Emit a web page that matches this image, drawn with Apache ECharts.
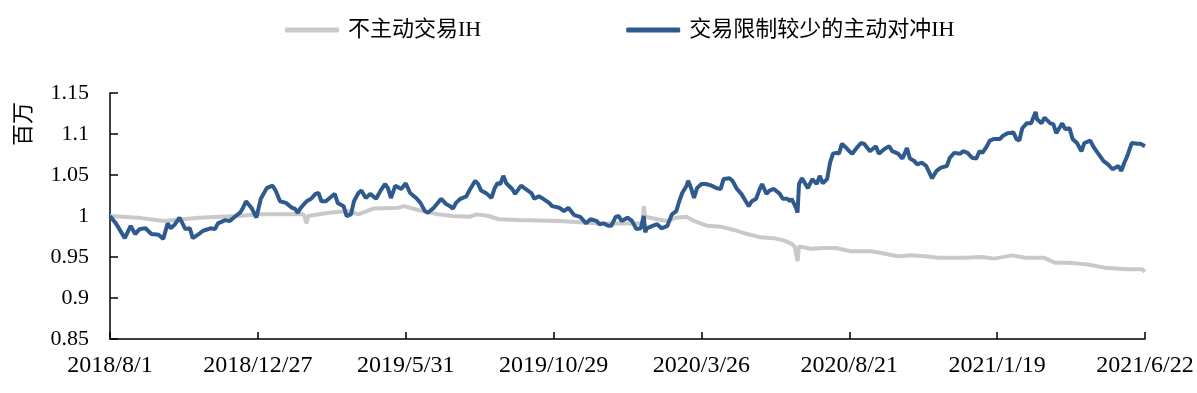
<!DOCTYPE html>
<html>
<head>
<meta charset="utf-8">
<script src="https://cdn.jsdelivr.net/npm/echarts@6/dist/echarts.min.js"></script>
<style>html,body{margin:0;padding:0;background:#fff;}#c{width:1197px;height:393px;}</style>
</head>
<body>
<div id="c"></div>
<script>
// x = trading-day index since 2018/8/1 (each tick = 100 trading days)
const tickLabels = ["2018/8/1","2018/12/27","2019/5/31","2019/10/29","2020/3/26","2020/8/21","2021/1/19","2021/6/22"];
const seriesNames = ["不主动交易IH","交易限制较少的主动对冲IH"];

const grayDays = [0,19,36,60,87,100,117,131,132,133,134,148,161,168,178,195,199,209,222,232,243,248,256,263,276,304,331,358,360,361,362,370,377,383,390,395,404,413,422,431,440,449,456,461,463,465,466,474,483,491,501,515,524,533,542,551,560,578,590,598,610,619,632,639,648,661,673,688,698,700];
const grayValues = [1.000,0.998,0.994,0.998,1.000,1.002,1.002,1.002,1.002,0.991,1.000,1.004,1.006,1.002,1.009,1.010,1.012,1.007,1.002,1.000,0.999,1.002,1.000,0.996,0.995,0.994,0.991,0.991,0.991,1.012,0.999,0.996,0.994,0.998,0.999,0.994,0.988,0.987,0.983,0.978,0.974,0.973,0.970,0.966,0.963,0.945,0.963,0.960,0.961,0.961,0.957,0.957,0.954,0.951,0.952,0.951,0.949,0.949,0.950,0.948,0.952,0.949,0.949,0.943,0.943,0.941,0.937,0.935,0.935,0.932];

const blueDays = [0,4,10,14,17,20,24,28,33,36,39,41,44,47,51,54,56,60,63,68,71,73,78,81,85,88,90,92,96,99,102,106,110,112,115,119,123,125,127,129,133,136,139,141,143,146,150,152,154,158,160,163,165,168,170,173,176,180,183,186,188,190,193,197,200,203,207,210,213,215,219,224,227,230,232,234,237,241,243,245,247,249,251,255,258,260,262,264,266,268,272,274,278,281,285,287,290,293,297,299,304,307,310,314,318,322,325,329,331,334,337,339,342,344,346,350,353,356,359,361,362,363,367,370,373,377,380,383,385,387,390,391,393,395,397,400,403,407,410,413,415,419,421,424,427,430,432,434,437,439,441,444,446,449,453,455,458,460,461,464,465,466,468,472,475,478,480,482,485,487,489,491,493,495,498,500,502,505,508,510,514,516,518,520,524,527,529,533,536,539,541,544,546,549,552,556,559,562,566,568,571,575,577,580,583,586,588,590,593,595,598,602,604,607,611,613,615,617,620,623,626,627,630,632,636,638,640,644,646,649,651,654,657,659,663,665,668,672,675,678,682,684,686,688,691,695,697,700];
const blueValues = [1.000,0.991,0.973,0.988,0.978,0.984,0.985,0.978,0.977,0.972,0.991,0.985,0.990,0.998,0.984,0.985,0.973,0.978,0.982,0.985,0.984,0.991,0.995,0.994,1.000,1.004,1.010,1.018,1.009,0.998,1.021,1.034,1.037,1.031,1.018,1.016,1.010,1.009,1.004,1.010,1.018,1.021,1.027,1.028,1.018,1.018,1.024,1.027,1.016,1.012,1.000,1.002,1.018,1.028,1.031,1.022,1.027,1.021,1.031,1.039,1.034,1.022,1.037,1.033,1.040,1.028,1.022,1.016,1.006,1.004,1.010,1.021,1.015,1.012,1.009,1.016,1.021,1.024,1.031,1.037,1.043,1.039,1.031,1.027,1.022,1.033,1.040,1.039,1.049,1.040,1.033,1.027,1.037,1.033,1.028,1.021,1.024,1.021,1.016,1.012,1.010,1.006,1.010,1.001,0.999,0.991,0.996,0.994,0.990,0.991,0.988,0.988,0.999,1.000,0.994,0.998,0.994,0.984,0.985,1.000,0.980,0.985,0.988,0.990,0.985,0.988,1.002,1.006,1.018,1.028,1.037,1.043,1.034,1.022,1.034,1.039,1.039,1.037,1.034,1.033,1.045,1.046,1.043,1.033,1.027,1.018,1.012,1.018,1.021,1.031,1.039,1.027,1.031,1.033,1.027,1.021,1.021,1.018,1.021,1.010,1.004,1.039,1.046,1.034,1.045,1.039,1.049,1.040,1.045,1.065,1.076,1.077,1.076,1.088,1.083,1.079,1.076,1.083,1.089,1.088,1.079,1.082,1.085,1.076,1.082,1.085,1.079,1.076,1.070,1.083,1.070,1.067,1.063,1.065,1.061,1.046,1.055,1.059,1.061,1.071,1.077,1.076,1.079,1.077,1.071,1.070,1.079,1.077,1.085,1.092,1.094,1.094,1.098,1.101,1.102,1.094,1.092,1.107,1.113,1.113,1.127,1.118,1.113,1.120,1.113,1.112,1.101,1.113,1.106,1.107,1.094,1.089,1.079,1.089,1.092,1.085,1.077,1.067,1.063,1.057,1.061,1.055,1.065,1.073,1.089,1.088,1.088,1.085];

const pair = (xs, ys) => xs.map((x, i) => [x, ys[i]]);

const FONT = '"Liberation Serif", "Noto Sans CJK SC", serif';
const chart = echarts.init(document.getElementById('c'), null, {renderer: 'canvas'});
chart.setOption({
  animation: false,
  backgroundColor: '#ffffff',
  textStyle: {fontFamily: FONT},
  grid: {left: 110, right: 52, top: 93, bottom: 54},
  legend: {
    top: 14, left: 280, itemGap: 145,
    itemWidth: 54, itemHeight: 5, icon: 'roundRect',
    textStyle: {fontFamily: FONT, fontSize: 22, color: '#000', padding: [0, 0, 0, 4]},
    data: seriesNames
  },
  graphic: [{
    type: 'text', left: 13, top: 102, rotation: Math.PI / 2,
    style: {text: '百万', font: '22px ' + FONT, fill: '#000'}
  }],
  xAxis: {
    type: 'value', min: 0, max: 700, interval: 100,
    axisLine: {lineStyle: {color: '#000', width: 1.5}},
    axisTick: {inside: true, length: 7, lineStyle: {color: '#000', width: 1.5}},
    splitLine: {show: false},
    axisLabel: {
      fontFamily: FONT, fontSize: 24, color: '#000', margin: 15,
      formatter: v => tickLabels[Math.round(v / 100)] || ''
    }
  },
  yAxis: {
    type: 'value', min: 0.85, max: 1.15, interval: 0.05,
    axisLine: {show: true, lineStyle: {color: '#000', width: 1.5}},
    axisTick: {show: true, inside: true, length: 8, lineStyle: {color: '#000', width: 1.5}},
    splitLine: {show: false},
    axisLabel: {fontFamily: FONT, fontSize: 22, color: '#000', margin: 21,
      formatter: v => String(Math.round(v * 100) / 100)}
  },
  series: [
    {name: seriesNames[0], type: 'line', data: pair(grayDays, grayValues), showSymbol: false,
     lineStyle: {color: '#C9C9C9', width: 4}, itemStyle: {color: '#C9C9C9'}, z: 2},
    {name: seriesNames[1], type: 'line', data: pair(blueDays, blueValues), showSymbol: false,
     lineStyle: {color: '#2F5A8E', width: 4}, itemStyle: {color: '#2F5A8E'}, z: 3}
  ]
});
</script>
</body>
</html>
